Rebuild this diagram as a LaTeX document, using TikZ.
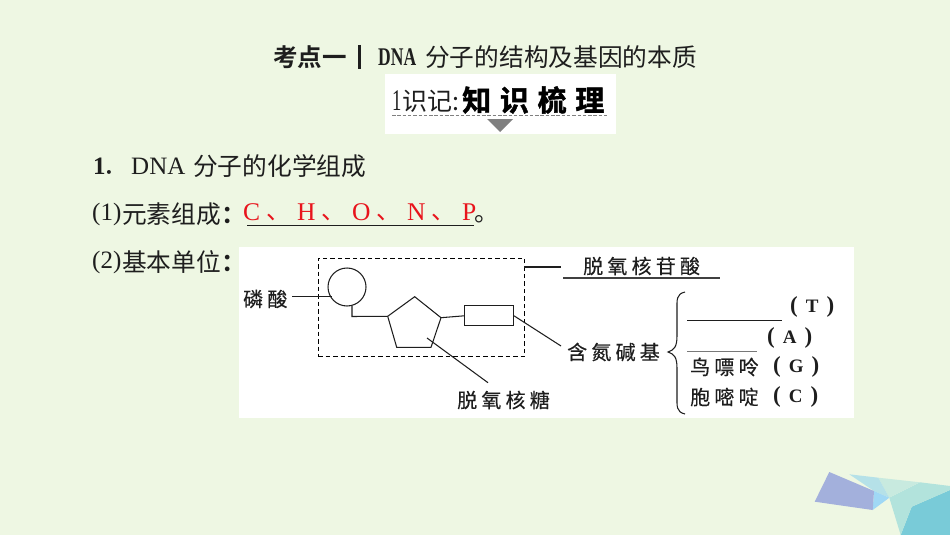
\documentclass[tikz,border=0pt]{standalone}
\usepackage{fontspec}
\setmainfont{Liberation Serif}
\newfontfamily\cjk{Noto Sans CJK SC}
\newfontfamily\cjkB{Noto Sans CJK SC Bold}
\newfontfamily\cjkS[LetterSpace=21,FakeBold=0.35]{Noto Sans CJK SC}
\newfontfamily\cjkK[LetterSpace=30,FakeBold=1.5]{Noto Sans CJK SC Bold}
\newcommand{\fs}[1]{\fontsize{#1}{#1}\selectfont}
\newcommand{\pbase}[1]{{\fs{23}(}\kern8pt{\fs{19}#1}\kern8pt{\fs{23})}}
\definecolor{bgc}{HTML}{EEF7E3}
\definecolor{ink}{HTML}{1E1E1E}
\definecolor{redt}{HTML}{E8141C}
\definecolor{decoA}{HTML}{79CBD8}
\definecolor{decoB}{HTML}{B2E3DC}
\definecolor{decoC}{HTML}{C8EADF}
\definecolor{decoD}{HTML}{B5E1E8}
\definecolor{decoE}{HTML}{A0D8F5}
\definecolor{decoF}{HTML}{A3B0DC}
\tikzset{
  x=1pt,y=-1pt,
  txt/.style={anchor=west,inner sep=0pt,text=ink},
  main/.style={txt,font=\cjk\fs{24.7}},
  rom/.style={txt,font=\fs{25}},
  redl/.style={anchor=west,inner sep=0pt,text=redt,font=\fs{25.5}},
  redp/.style={anchor=west,inner sep=0pt,text=redt,font=\cjk\fs{24}},
  lab/.style={txt,font=\cjkS\fs{20}},
  basel/.style={txt,font=\bfseries},
  ln/.style={draw=ink,line width=1.05pt},
}
\begin{document}
\begin{tikzpicture}
\useasboundingbox (0,0) rectangle (950,535);
\fill[bgc] (0,0) rectangle (950,535);
% corner decoration
\fill[decoA] (950,490) -- (911.7,506.7) -- (900.7,535) -- (950,535) -- cycle;
\fill[decoB] (920,482.3) -- (950,486) -- (950,490) -- (911.7,506.7) -- (900.7,535) -- (889.3,497.7) -- cycle;
\fill[decoC] (878.3,477.7) -- (920,482.3) -- (889.3,497.7) -- cycle;
\fill[decoD] (849.3,474.3) -- (878.3,477.7) -- (889.3,497.7) -- (874,491) -- cycle;
\fill[decoE] (874,491) -- (889.3,497.7) -- (872.7,510) -- cycle;
\fill[decoF] (829.3,472) -- (874,491) -- (872.7,510) -- (814.7,501.7) -- cycle;
% white panels
\fill[white] (385,74) rectangle (616,134);
\fill[white] (239,247) rectangle (854,418);
% heading
\node[txt,font=\cjkB\fs{24.5}] (kd) at (273,57) {考点一};
\coordinate (bara) at (359,45);
\coordinate (barb) at (359,69);
\draw[ink,line width=3pt] (bara) -- (barb);
\node[txt,font=\bfseries\fs{25}] (dna) at (378,57) {\resizebox{38pt}{!}{\scalebox{1}[1.45]{DNA}}};
\node[main] (ht) at (425,57) {分子的结构及基因的本质};
% knowledge banner
\node[txt,font=\fs{30}] (one) at (392,101) {\scalebox{0.62}[1]{1}};
\node[txt,font=\cjk\fs{25}] (sj) at (402,101) {识记:};
\node[txt,text=black,font=\cjkK\fs{29}] (zs) at (462,100) {知识梳理};
\coordinate (da) at (392,115.7);
\coordinate (db) at (607,115.7);
\draw[gray,line width=1.2pt,dash pattern=on 3.5pt off 1.8pt] (da) -- (db);
\coordinate (ta) at (487,119);
\coordinate (tb) at (513,119);
\coordinate (tc) at (500,132);
\fill[gray] (ta) -- (tb) -- (tc) -- cycle;
% text lines
\node[txt,font=\bfseries\fs{25}] (l1a) at (93,166) {1};
\node[main] (l1d) at (103,173) {．};
\node[rom] (l1b) at (131,166) {DNA};
\node[main] (l1c) at (193,166) {分子的化学组成};
\node[rom] (l2a) at (92,214) {(1)};
\node[main] (l2b) at (122,214) {元素组成{\cjkB ：}};
\node[redl] (rc) at (243,212) {C};
\node[redp] (r1) at (266,217) {、};
\node[redl] (rh) at (297,212) {H};
\node[redp] (r2) at (321,217) {、};
\node[redl] (ro) at (352,212) {O};
\node[redp] (r3) at (376,217) {、};
\node[redl] (rn) at (407,212) {N};
\node[redp] (r4) at (431,217) {、};
\node[redl] (rp) at (462,212) {P};
\node[main] (r5) at (474,219) {。};
\coordinate (ua) at (247,225.7);
\coordinate (ub) at (474,225.7);
\draw[ink,line width=1.2pt] (ua) -- (ub);
\node[rom] (l3a) at (92,262) {(2)};
\node[main] (l3b) at (122,262) {基本单位{\cjkB ：}};
% nucleotide
\node[draw=black,line width=1pt,dash pattern=on 4.5pt off 3pt,inner sep=0pt,minimum width=206.5pt,minimum height=98.5pt,anchor=north west] (box) at (317.5,257.5) {};
\node[circle,ln,inner sep=0pt,minimum size=38pt] (phos) at (347,287) {};
\coordinate (pt) at (414.7,296.7);
\coordinate (pr) at (441,317.7);
\coordinate (pbr) at (431,347.3);
\coordinate (pbl) at (396.7,347.3);
\coordinate (pl) at (387.7,316.3);
\draw[ln] (pt) -- (pr) -- (pbr) -- (pbl) -- (pl) -- cycle;
\node[rectangle,ln,inner sep=0pt,minimum width=49pt,minimum height=20pt,anchor=north west] (base) at (464,305.3) {};
\coordinate (pc) at (352,305.7);
\coordinate (pd) at (352,316.5);
\draw[ln] (pc) -- (pd) -- (pl);
\draw[ln] (pr) -- (base.west);
\node[lab] (lp) at (243,299) {磷酸};
\coordinate (lpa) at (292,296.7);
\coordinate (lpb) at (331.7,296.7);
\draw[ln] (lpa) -- (lpb);
\node[lab] (ls) at (457,400) {脱氧核糖};
\coordinate (lsa) at (427,338);
\coordinate (lsb) at (488,382.7);
\draw[ln] (lsa) -- (lsb);
\node[lab] (ln1) at (583,266) {脱氧核苷酸};
\coordinate (nt) at (524,267);
\coordinate (ntb) at (561,267);
\draw[ln] (nt) -- (ntb);
\coordinate (nua) at (563,277.7);
\coordinate (nub) at (720,277.7);
\draw[ink!85,line width=1.7pt] (nua) -- (nub);
\node[lab] (hb) at (567,352) {含氮碱基};
\coordinate (hbl) at (561,346);
\draw[ln] (base.east) -- (hbl);
% brace
\coordinate (bt) at (685,292);
\coordinate (bm) at (668,352);
\coordinate (bb) at (685,414);
\draw[ln] (bt) .. controls (676,294) and (677,300) .. (677,310) -- (677,336) .. controls (677,347) and (674,350) .. (bm) .. controls (674,354) and (677,357) .. (677,368) -- (677,396) .. controls (677,406) and (676,412) .. (bb);
% bases
\coordinate (ta1) at (687,320);
\coordinate (ta2) at (782,320);
\draw[ink,line width=1pt] (ta1) -- (ta2);
\node[basel] (tT) at (790,307) {\pbase{T}};
\coordinate (aa1) at (687,351);
\coordinate (aa2) at (757,351);
\draw[ink!60,line width=0.8pt] (aa1) -- (aa2);
\node[basel] (tA) at (767,338) {\pbase{A}};
\node[lab] (tG) at (690,367) {鸟嘌呤};
\node[basel] (tGb) at (773,367) {\pbase{G}};
\node[lab] (tC) at (690,397) {胞嘧啶};
\node[basel] (tCb) at (773,397) {\pbase{C}};
\end{tikzpicture}
\end{document}
